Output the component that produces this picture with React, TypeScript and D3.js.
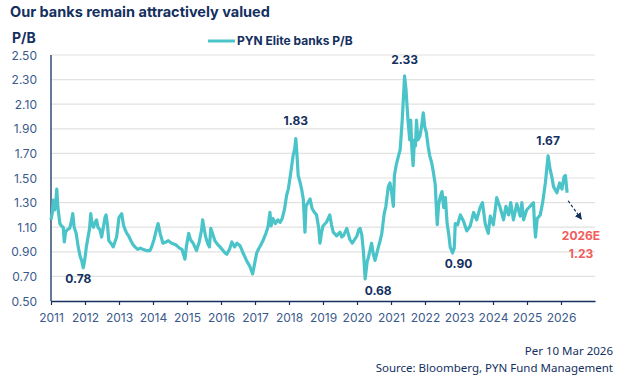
import * as d3 from 'd3';
import React, { useEffect, useRef } from 'react';

// P/B readings as [decimal year, value]
const pb2011to2016: [number, number][] = [
  [2011.0, 1.16], [2011.04, 1.22], [2011.07, 1.32], [2011.11, 1.24], [2011.14, 1.3], [2011.17, 1.41],
  [2011.2, 1.27], [2011.26, 1.13], [2011.31, 1.11], [2011.36, 1.1], [2011.39, 0.98], [2011.43, 1.06],
  [2011.48, 1.08], [2011.55, 1.09], [2011.6, 1.15], [2011.64, 1.21], [2011.68, 1.1], [2011.74, 1.05],
  [2011.8, 0.94], [2011.86, 0.86], [2011.9, 0.83], [2011.95, 0.77], [2011.99, 0.83], [2012.04, 0.94],
  [2012.09, 1.02], [2012.13, 1.08], [2012.17, 1.21], [2012.21, 1.12], [2012.25, 1.1], [2012.3, 1.14],
  [2012.34, 1.16], [2012.38, 1.1], [2012.44, 1.08], [2012.49, 1.02], [2012.54, 1.1], [2012.59, 1.18],
  [2012.62, 1.2], [2012.66, 1.12], [2012.7, 0.99], [2012.76, 0.97], [2012.83, 0.94], [2012.88, 0.98],
  [2012.93, 1.02], [2013.0, 1.18], [2013.08, 1.21], [2013.13, 1.12], [2013.18, 1.08], [2013.23, 1.05],
  [2013.28, 1.03], [2013.35, 0.99], [2013.41, 0.96], [2013.47, 0.94], [2013.55, 0.92], [2013.63, 0.93],
  [2013.7, 0.92], [2013.8, 0.91], [2013.91, 0.91], [2013.96, 0.94], [2014.03, 1.0], [2014.1, 1.08],
  [2014.15, 1.13], [2014.21, 1.05], [2014.29, 0.97], [2014.38, 0.98], [2014.45, 0.99], [2014.55, 0.97],
  [2014.65, 0.96], [2014.7, 0.95], [2014.78, 0.93], [2014.85, 0.92], [2014.94, 0.84], [2014.98, 0.94],
  [2015.05, 1.05], [2015.1, 1.0], [2015.18, 0.97], [2015.28, 0.91], [2015.36, 0.98], [2015.43, 1.08],
  [2015.46, 1.16], [2015.51, 1.08], [2015.55, 1.02], [2015.62, 0.96], [2015.66, 0.94], [2015.7, 1.09],
  [2015.75, 1.05], [2015.82, 0.99], [2015.9, 0.96], [2015.97, 0.94], [2016.06, 0.91], [2016.12, 0.89],
  [2016.17, 0.88], [2016.25, 0.92], [2016.32, 0.98], [2016.4, 0.94], [2016.47, 0.97],
];

const pb2016to2020: [number, number][] = [
  [2016.56, 0.95], [2016.65, 0.89], [2016.75, 0.83], [2016.85, 0.78], [2016.93, 0.72], [2017.0, 0.82],
  [2017.05, 0.89], [2017.1, 0.92], [2017.18, 0.96], [2017.25, 1.0], [2017.32, 1.05], [2017.38, 1.1],
  [2017.44, 1.22], [2017.47, 1.11], [2017.53, 1.17], [2017.6, 1.13], [2017.67, 1.16], [2017.74, 1.14],
  [2017.8, 1.17], [2017.87, 1.25], [2017.93, 1.36], [2017.98, 1.41], [2018.04, 1.52], [2018.08, 1.6],
  [2018.12, 1.68], [2018.17, 1.74], [2018.2, 1.82], [2018.23, 1.71], [2018.27, 1.52], [2018.33, 1.46],
  [2018.37, 1.41], [2018.42, 1.33], [2018.47, 1.06], [2018.5, 1.27], [2018.56, 1.3], [2018.62, 1.33],
  [2018.68, 1.25], [2018.75, 1.22], [2018.81, 1.2], [2018.87, 1.1], [2018.91, 0.97], [2018.96, 1.06],
  [2019.0, 1.11], [2019.1, 1.14], [2019.15, 1.17], [2019.2, 1.2], [2019.25, 1.12], [2019.3, 1.06],
  [2019.4, 1.03], [2019.5, 1.06], [2019.55, 1.02], [2019.6, 1.03], [2019.7, 1.09], [2019.75, 1.04],
  [2019.79, 1.0], [2019.86, 0.97], [2019.93, 1.0],
];

const pb2020to2023: [number, number][] = [
  [2020.0, 1.03], [2020.05, 1.08], [2020.09, 1.09], [2020.14, 1.04], [2020.19, 0.9], [2020.24, 0.68],
  [2020.3, 0.82], [2020.34, 0.86], [2020.43, 0.97], [2020.48, 0.88], [2020.53, 0.83], [2020.63, 0.94],
  [2020.68, 0.99], [2020.73, 1.05], [2020.8, 1.21], [2020.85, 1.27], [2020.92, 1.43], [2020.97, 1.46],
  [2021.02, 1.38], [2021.07, 1.27], [2021.1, 1.52], [2021.15, 1.6], [2021.22, 1.68], [2021.27, 1.73],
  [2021.33, 1.97], [2021.4, 2.33], [2021.44, 2.22], [2021.5, 1.97], [2021.55, 1.81], [2021.58, 1.97],
  [2021.61, 1.76], [2021.65, 1.6], [2021.69, 1.81], [2021.72, 1.76], [2021.75, 1.97], [2021.79, 1.81],
  [2021.85, 1.84], [2021.9, 1.92], [2021.95, 2.03], [2021.99, 1.92], [2022.04, 1.87], [2022.09, 1.76],
  [2022.14, 1.68], [2022.2, 1.62], [2022.25, 1.54], [2022.3, 1.45], [2022.33, 1.28], [2022.36, 1.12],
  [2022.4, 1.28], [2022.45, 1.35], [2022.5, 1.39], [2022.55, 1.26], [2022.6, 1.34], [2022.65, 1.13],
  [2022.7, 1.04], [2022.74, 0.94], [2022.81, 0.89], [2022.86, 0.93], [2022.89, 1.13], [2022.96, 1.12],
];

const pb2023to2026: [number, number][] = [
  [2023.04, 1.2], [2023.13, 1.15], [2023.23, 1.07], [2023.33, 1.11], [2023.43, 1.22], [2023.52, 1.16],
  [2023.62, 1.26], [2023.69, 1.3], [2023.77, 1.13], [2023.86, 1.05], [2023.92, 1.19], [2024.01, 1.12],
  [2024.11, 1.34], [2024.21, 1.26], [2024.31, 1.16], [2024.38, 1.27], [2024.46, 1.2], [2024.52, 1.3],
  [2024.6, 1.16], [2024.7, 1.29], [2024.8, 1.19], [2024.85, 1.3], [2024.9, 1.16], [2024.99, 1.24],
  [2025.09, 1.27], [2025.19, 1.3], [2025.22, 1.13], [2025.25, 1.02], [2025.3, 1.17], [2025.39, 1.2],
  [2025.46, 1.3], [2025.54, 1.46], [2025.62, 1.68], [2025.68, 1.57], [2025.73, 1.51], [2025.78, 1.43],
  [2025.88, 1.38], [2025.96, 1.46], [2026.03, 1.41], [2026.09, 1.51], [2026.13, 1.52], [2026.18, 1.38],
];

const years = d3.range(2011, 2027);
const yTicks = [0.5, 0.7, 0.9, 1.1, 1.3, 1.5, 1.7, 1.9, 2.1, 2.3, 2.5];

// labelled extremes: [year, value, text, placed below]
const callouts: [number, number, string, boolean][] = [
  [2011.95, 0.78, '0.78', true],
  [2018.2, 1.83, '1.83', false],
  [2020.24, 0.68, '0.68', true],
  [2021.4, 2.33, '2.33', false],
  [2022.81, 0.9, '0.90', true],
  [2025.62, 1.67, '1.67', false],
];
const estimateYear = 2026.6;
const estimateValue = 1.23;

const NAVY = '#14305f';
const TICK = '#3a5a8c';
const TEAL = '#4bc4c9';
const RED = '#f25c5c';
const FONT = 'Inter, "Noto Sans", sans-serif';

export default function App() {
  const svgRef = useRef<SVGSVGElement>(null);

  useEffect(() => {
    if (!svgRef.current) return;
    const svg = d3.select(svgRef.current);
    svg.selectAll('*').remove();

    const x = d3.scaleLinear().domain([2011, 2027]).range([51, 595]);
    const y = d3.scaleLinear().domain([0.5, 2.5]).range([301, 55]);

    const data = [...pb2011to2016, ...pb2016to2020, ...pb2020to2023, ...pb2023to2026];

    // Title
    svg.append('text')
      .attr('x', 10).attr('y', 17)
      .attr('font-family', FONT).attr('font-weight', 700).attr('font-size', 14.5)
      .attr('fill', NAVY)
      .text('Our banks remain attractively valued');

    svg.append('text')
      .attr('x', 12).attr('y', 43)
      .attr('font-family', FONT).attr('font-weight', 700).attr('font-size', 14)
      .attr('fill', NAVY)
      .text('P/B');

    // Legend
    svg.append('line')
      .attr('x1', 208).attr('x2', 235).attr('y1', 41).attr('y2', 41)
      .attr('stroke', TEAL).attr('stroke-width', 3);
    svg.append('text')
      .attr('x', 237).attr('y', 45)
      .attr('font-family', FONT).attr('font-weight', 700).attr('font-size', 12)
      .attr('fill', NAVY)
      .text('PYN Elite banks P/B');

    // Grid
    svg.append('g')
      .selectAll('line')
      .data(yTicks.slice(1))
      .enter()
      .append('line')
      .attr('x1', x(2011)).attr('x2', x(2027))
      .attr('y1', d => y(d)).attr('y2', d => y(d))
      .attr('stroke', '#e2e2e2').attr('stroke-width', 1.2);

    // Y labels
    svg.append('g')
      .selectAll('text')
      .data(yTicks)
      .enter()
      .append('text')
      .attr('x', 37).attr('y', d => y(d) + 4.5)
      .attr('text-anchor', 'end')
      .attr('font-family', FONT).attr('font-size', 12)
      .attr('fill', TICK)
      .text(d => d.toFixed(2));

    // Y axis line
    svg.append('line')
      .attr('x1', x(2011)).attr('x2', x(2011))
      .attr('y1', y(2.5)).attr('y2', y(0.5))
      .attr('stroke', NAVY).attr('stroke-width', 1.3);

    // X axis
    const xAxis = d3.axisBottom(x)
      .tickValues(years)
      .tickFormat(d3.format('d'))
      .tickSizeInner(4)
      .tickSizeOuter(0)
      .tickPadding(8);
    const gx = svg.append('g')
      .attr('transform', `translate(0,${y(0.5)})`)
      .call(xAxis);
    gx.select('.domain').attr('stroke', NAVY).attr('stroke-width', 1.5);
    gx.selectAll('.tick line').attr('stroke', NAVY).attr('stroke-width', 1.2);
    gx.selectAll('.tick text')
      .attr('font-family', FONT).attr('font-size', 12)
      .attr('fill', TICK);

    // Series line
    const line = d3.line<[number, number]>()
      .x(d => x(d[0]))
      .y(d => y(d[1]));
    svg.append('path')
      .datum(data)
      .attr('d', line)
      .attr('fill', 'none')
      .attr('stroke', TEAL)
      .attr('stroke-width', 3.2)
      .attr('stroke-linejoin', 'round');

    // Callouts
    const nudge: Record<string, number> = { '0.78': -5, '0.68': 13, '0.90': 6 };
    svg.append('g')
      .selectAll('text')
      .data(callouts)
      .enter()
      .append('text')
      .attr('x', d => x(d[0]) + (nudge[d[2]] || 0))
      .attr('y', d => (d[3] ? y(d[1]) + 16 : y(d[1]) - 12))
      .attr('text-anchor', 'middle')
      .attr('font-family', FONT).attr('font-weight', 700).attr('font-size', 12)
      .attr('fill', NAVY)
      .text(d => d[2]);

    // Estimate arrow
    const last = data[data.length - 1];
    svg.append('defs').append('marker')
      .attr('id', 'arrowhead')
      .attr('viewBox', '0 0 10 10')
      .attr('refX', 9).attr('refY', 5)
      .attr('markerWidth', 7).attr('markerHeight', 7)
      .attr('markerUnits', 'userSpaceOnUse')
      .attr('orient', 'auto')
      .append('path')
      .attr('d', 'M0,0 L10,5 L0,10 z')
      .attr('fill', NAVY);
    svg.append('line')
      .attr('x1', x(last[0]) + 1).attr('y1', y(last[1]) + 8)
      .attr('x2', x(estimateYear)).attr('y2', y(estimateValue) + 8)
      .attr('stroke', NAVY).attr('stroke-width', 1.2)
      .attr('stroke-dasharray', '3,2')
      .attr('marker-end', 'url(#arrowhead)');

    svg.append('text')
      .attr('x', 581).attr('y', 240)
      .attr('text-anchor', 'middle')
      .attr('font-family', FONT).attr('font-weight', 700).attr('font-size', 12)
      .attr('fill', RED)
      .text('2026E');
    svg.append('text')
      .attr('x', 581).attr('y', 258)
      .attr('text-anchor', 'middle')
      .attr('font-family', FONT).attr('font-weight', 700).attr('font-size', 12)
      .attr('fill', RED)
      .text(estimateValue.toFixed(2));

    // Footer
    svg.append('text')
      .attr('x', 613).attr('y', 355)
      .attr('text-anchor', 'end')
      .attr('font-family', '"Noto Sans", sans-serif').attr('font-size', 11.5)
      .attr('fill', NAVY)
      .text('Per 10 Mar 2026');
    svg.append('text')
      .attr('x', 613).attr('y', 372)
      .attr('text-anchor', 'end')
      .attr('font-family', '"Noto Sans", sans-serif').attr('font-size', 11.5)
      .attr('fill', NAVY)
      .text('Source: Bloomberg, PYN Fund Management');
  }, []);

  return (
    <svg
      ref={svgRef}
      width={622}
      height={391}
      style={{ position: 'absolute', left: 0, top: 0, background: '#fff' }}
    />
  );
}
